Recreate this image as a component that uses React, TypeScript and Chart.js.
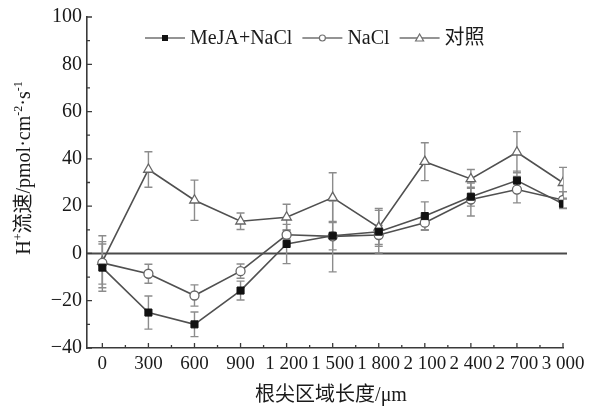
import React, { useEffect, useRef } from "react";
import { Chart, registerables } from "chart.js";

Chart.register(...registerables);

const xValues = [0, 300, 600, 900, 1200, 1500, 1800, 2100, 2400, 2700, 3000];
const xTickLabels = ["0", "300", "600", "900", "1 200", "1 500", "1 800", "2 100", "2 400", "2 700", "3 000"];
const yTickValues = [-40, -20, 0, 20, 40, 60, 80, 100];
const yTickLabels = ["−40", "−20", "0", "20", "40", "60", "80", "100"];

const seriesNames = ["MeJA+NaCl", "NaCl", "对照"];
const mejaValues = [-6, -25, -30, -15.7, 4, 7.5, 9.2, 15.8, 24, 30.8, 21];
const mejaErrors = [10, 7, 5.2, 4, 8.3, 6, 9, 6, 4, 4, 2];
const naclValues = [-4, -8.6, -17.8, -7.5, 7.9, 7.2, 7.8, 13, 22.8, 27, 22.6];
const naclErrors = [9, 4, 4.5, 3, 2, 15, 4, 3, 7, 5.6, 3.5];
const ctrlValues = [-3.5, 35.5, 22.5, 13.6, 15.3, 23.6, 11, 38.8, 31.5, 42.8, 29.9];
const ctrlErrors = [11, 7.5, 8.5, 3.5, 5.5, 10.5, 8, 8, 4, 8.7, 6.5];

const xTitle = "根尖区域长度/μm";
const yTitleParts: [string, boolean][] = [
  ["H", false],
  ["+", true],
  ["流速/pmol·cm", false],
  ["-2", true],
  ["·s", false],
  ["-1", true],
];

const FONT = "'Liberation Serif', 'Noto Sans CJK SC', serif";
const FS = 20;
const FSX = 19;
const TXT = "#1a1a1a";
const LINE = "#505050";
const ERR = "#8c8c8c";
const AXIS = "#3a3a3a";

const allErrors = [mejaErrors, naclErrors, ctrlErrors];

const customPlugin = {
  id: "custom",
  beforeDatasetsDraw(chart: any) {
    const ctx = chart.ctx;
    const xs = chart.scales.x;
    const ys = chart.scales.y;
    const area = chart.chartArea;
    ctx.save();
    // zero line
    ctx.strokeStyle = "#4a4a4a";
    ctx.lineWidth = 2;
    ctx.beginPath();
    const y0 = ys.getPixelForValue(0);
    ctx.moveTo(area.left, y0);
    ctx.lineTo(xs.getPixelForValue(3000) + 4, y0);
    ctx.stroke();
    // error bars
    ctx.strokeStyle = ERR;
    ctx.lineWidth = 1.4;
    chart.data.datasets.forEach((ds: any, i: number) => {
      const errs = allErrors[i];
      ds.data.forEach((p: any, j: number) => {
        const px = xs.getPixelForValue(p.x);
        const top = ys.getPixelForValue(p.y + errs[j]);
        const bot = ys.getPixelForValue(p.y - errs[j]);
        ctx.beginPath();
        ctx.moveTo(px, top);
        ctx.lineTo(px, bot);
        ctx.moveTo(px - 4, top);
        ctx.lineTo(px + 4, top);
        ctx.moveTo(px - 4, bot);
        ctx.lineTo(px + 4, bot);
        ctx.stroke();
      });
    });
    ctx.restore();
  },
  afterDraw(chart: any) {
    const ctx = chart.ctx;
    const xs = chart.scales.x;
    const ys = chart.scales.y;
    const area = chart.chartArea;
    ctx.save();
    // inward ticks
    ctx.strokeStyle = AXIS;
    ctx.lineWidth = 1.3;
    ctx.beginPath();
    for (let v = 0; v <= 3000; v += 150) {
      const px = xs.getPixelForValue(v);
      const len = v % 300 === 0 ? 5 : 3;
      ctx.moveTo(px, area.bottom);
      ctx.lineTo(px, area.bottom - len);
    }
    for (let v = -40; v <= 100; v += 10) {
      const py = ys.getPixelForValue(v);
      const len = v % 20 === 0 ? 5 : 3;
      ctx.moveTo(area.left, py);
      ctx.lineTo(area.left + len, py);
    }
    ctx.stroke();

    // legend
    ctx.font = `${FS}px ${FONT}`;
    ctx.textBaseline = "middle";
    ctx.fillStyle = TXT;
    let lx = 145;
    const ly = 38;
    chart.data.datasets.forEach((ds: any, i: number) => {
      ctx.strokeStyle = "#707070";
      ctx.lineWidth = 1.6;
      ctx.beginPath();
      ctx.moveTo(lx, ly);
      ctx.lineTo(lx + 40, ly);
      ctx.stroke();
      const cx = lx + 20;
      ctx.lineWidth = 1.2;
      if (i === 0) {
        ctx.fillStyle = "#111";
        ctx.fillRect(cx - 3, ly - 3, 6, 6);
      } else if (i === 1) {
        ctx.fillStyle = "#fff";
        ctx.strokeStyle = "#707070";
        ctx.beginPath();
        ctx.arc(cx, ly, 3, 0, Math.PI * 2);
        ctx.fill();
        ctx.stroke();
      } else {
        ctx.fillStyle = "#fff";
        ctx.strokeStyle = "#707070";
        ctx.beginPath();
        ctx.moveTo(cx, ly - 4);
        ctx.lineTo(cx + 4, ly + 3);
        ctx.lineTo(cx - 4, ly + 3);
        ctx.closePath();
        ctx.fill();
        ctx.stroke();
      }
      ctx.fillStyle = TXT;
      ctx.textAlign = "left";
      ctx.fillText(ds.label, lx + 45, ly + 1);
      lx += 45 + ctx.measureText(ds.label).width + 10;
    });

    // x title
    ctx.textAlign = "center";
    ctx.textBaseline = "middle";
    ctx.fillText(xTitle, 331, 396);

    // y title with superscripts
    ctx.translate(23, 168);
    ctx.rotate(-Math.PI / 2);
    const supFont = `${Math.round(FS * 0.6)}px ${FONT}`;
    const normFont = `${FS}px ${FONT}`;
    let total = 0;
    yTitleParts.forEach(([t, sup]) => {
      ctx.font = sup ? supFont : normFont;
      total += ctx.measureText(t).width;
    });
    let tx = -total / 2;
    ctx.textAlign = "left";
    ctx.textBaseline = "alphabetic";
    yTitleParts.forEach(([t, sup]) => {
      ctx.font = sup ? supFont : normFont;
      ctx.fillText(t, tx, sup ? -1 : 7);
      tx += ctx.measureText(t).width;
    });
    ctx.restore();
  },
};

export default function App() {
  const ref = useRef<HTMLCanvasElement>(null);
  useEffect(() => {
    if (!ref.current) return;
    const mk = (vals: number[]) => vals.map((v, i) => ({ x: xValues[i], y: v }));
    const chart = new Chart(ref.current, {
      type: "line",
      data: {
        datasets: [
          {
            label: seriesNames[0],
            data: mk(mejaValues),
            borderColor: LINE,
            borderWidth: 1.6,
            pointStyle: "rect",
            pointRadius: 5,
            pointBackgroundColor: "#111",
            pointBorderColor: "#111",
            pointBorderWidth: 1,
          },
          {
            label: seriesNames[1],
            data: mk(naclValues),
            borderColor: LINE,
            borderWidth: 1.6,
            pointStyle: "circle",
            pointRadius: 4.5,
            pointBackgroundColor: "#fff",
            pointBorderColor: "#666",
            pointBorderWidth: 1.3,
          },
          {
            label: seriesNames[2],
            data: mk(ctrlValues),
            borderColor: LINE,
            borderWidth: 1.6,
            pointStyle: "triangle",
            pointRadius: 5.5,
            pointBackgroundColor: "#fff",
            pointBorderColor: "#666",
            pointBorderWidth: 1.3,
          },
        ],
      },
      options: {
        responsive: false,
        animation: false,
        layout: { padding: { left: 0, top: 12, right: 33, bottom: 0 } },
        plugins: { legend: { display: false }, tooltip: { enabled: false } },
        scales: {
          x: {
            type: "linear",
            min: -100,
            max: 3000,
            afterBuildTicks: (s: any) => {
              s.ticks = xValues.map((v) => ({ value: v }));
            },
            afterFit: (s: any) => {
              s.height = 62;
            },
            grid: { display: false, drawTicks: false },
            border: { display: true, color: AXIS, width: 1.6 },
            ticks: {
              padding: 5,
              color: TXT,
              font: { family: FONT, size: FSX },
              maxRotation: 0,
              autoSkip: false,
              callback: (v: any) => {
                const i = xValues.indexOf(Number(v));
                return i >= 0 ? xTickLabels[i] : "";
              },
            },
          },
          y: {
            type: "linear",
            min: -40,
            max: 100,
            afterBuildTicks: (s: any) => {
              s.ticks = yTickValues.map((v) => ({ value: v }));
            },
            afterFit: (s: any) => {
              s.width = 87;
            },
            grid: { display: false, drawTicks: false },
            border: { display: true, color: AXIS, width: 1.6 },
            ticks: {
              padding: 5,
              color: TXT,
              font: { family: FONT, size: FS },
              callback: (v: any) => {
                const i = yTickValues.indexOf(Number(v));
                return i >= 0 ? yTickLabels[i] : "";
              },
            },
          },
        },
      },
      plugins: [customPlugin],
    });
    return () => chart.destroy();
  }, []);
  return (
    <div style={{ position: "absolute", left: 0, top: 0, width: 596, height: 410, background: "#fff" }}>
      <canvas ref={ref} width={596} height={410} style={{ display: "block" }} />
    </div>
  );
}
